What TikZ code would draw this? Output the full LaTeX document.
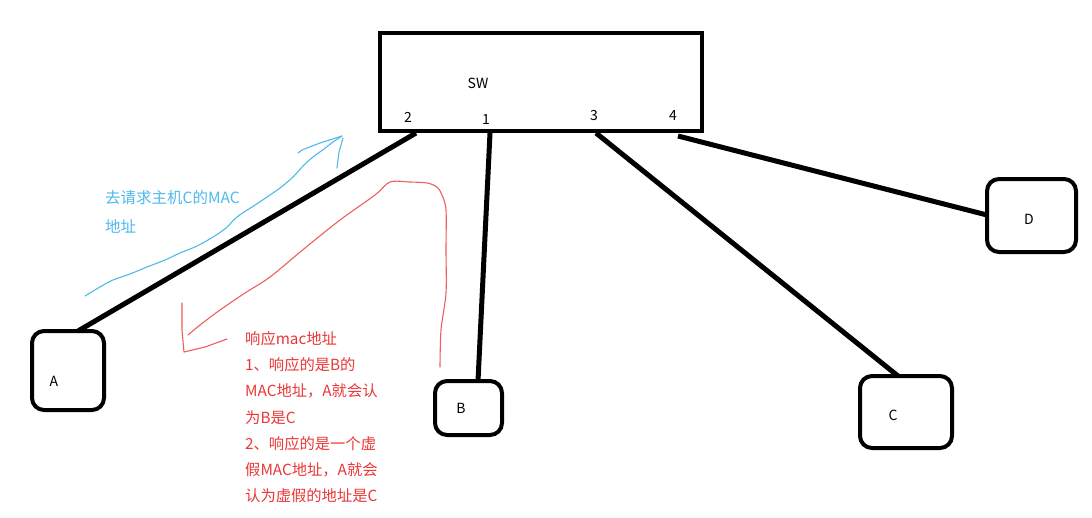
\documentclass[tikz,border=0pt]{standalone}
\usepackage{fontspec}
\setmainfont{Noto Sans CJK SC}
\definecolor{sky}{RGB}{80,185,235}
\definecolor{redtxt}{RGB}{235,55,55}
\definecolor{redline}{RGB}{238,95,95}
\begin{document}
\begin{tikzpicture}[x=1pt,y=-1pt,
  box/.style={draw=black,line width=4pt,rounded corners=12pt,minimum width=#1,inner sep=0pt},
  link/.style={draw=black,line width=5pt},
  lbl/.style={font=\fontsize{14}{16}\selectfont,inner sep=0pt},
  bluetxt/.style={text=sky,font=\fontsize{15.5}{26}\selectfont,inner sep=0pt,anchor=west},
  redtext/.style={text=redtxt,font=\fontsize{15.3}{26.3}\selectfont,inner sep=0pt,anchor=north west,align=left},
  freehand/.style={line width=1.1pt,line cap=round,line join=round}]
\useasboundingbox (0,0) rectangle (1092,517);
\fill[white] (0,0) rectangle (1092,517);
% switch
\node[draw=black,line width=4pt,minimum width=322pt,minimum height=98pt,inner sep=0pt] (sw) at (541,82) {};
\node[lbl] (swl) at (478,83) {SW};
\node[lbl] (p2l) at (408,117) {2};
\node[lbl] (p1l) at (486,120) {1};
\node[lbl] (p3l) at (594,116) {3};
\node[lbl] (p4l) at (673,116) {4};
% hosts
\node[box=72pt,minimum height=79pt] (A) at (68,370.5) {};
\node[box=67pt,minimum height=54pt] (B) at (468.5,408) {};
\node[box=92pt,minimum height=72pt] (C) at (906,412) {};
\node[box=89pt,minimum height=73pt] (D) at (1031.5,215.5) {};
\node[lbl] (Al) at (54,381) {A};
\node[lbl] (Bl) at (461,408) {B};
\node[lbl] (Cl) at (893,415) {C};
\node[lbl] (Dl) at (1029,219) {D};
% port points
\coordinate (s2) at (416,133);
\coordinate (s1) at (490,133);
\coordinate (s3) at (596,133);
\coordinate (s4) at (678,136);
\coordinate (a2) at (78,331);
\coordinate (b1) at (478,381);
\coordinate (c3) at (898,376);
\coordinate (d4) at (987,215);
\draw[link] (s2) -- (a2);
\draw[link] (s1) -- (b1);
\draw[link] (s3) -- (c3);
\draw[link] (s4) -- (d4);
% blue request arrow
\draw[sky,freehand] plot[smooth,tension=0.6] coordinates {(85,296) (100,287) (113,280) (130,274) (147,267) (165,260) (180,253) (197,246) (213,237) (226,228) (237,217) (252,207) (267,197) (280,188) (293,177) (303,166) (313,157) (324,149) (333,142) (342,136)};
\draw[sky,freehand] (298,153) -- (302,150) -- (307,148) -- (320,143) -- (342,136);
\draw[sky,freehand] (343,138) -- (339,152) -- (337,168);
\node[bluetxt] (t1) at (105,198) {去请求主机C的MAC};
\node[bluetxt] (t2) at (105,226) {地址};
% red response arrow
\draw[redline,freehand] plot[smooth,tension=0.5] coordinates {(440,367) (441,330) (446,293) (446,250) (446,210) (442,195) (437,187) (427,183) (410,182) (390,182) (375,195) (340,220) (305,248) (270,277) (245,293) (220,310) (200,325) (188,335)};
\draw[redline,freehand] (182,303) -- (182,330) -- (184,352) -- (205,347) -- (227,339);
\node[redtext] (r1) at (245,331) {响应mac地址\\1、响应的是B的\\MAC地址，A就会认\\为B是C\\2、响应的是一个虚\\假MAC地址，A就会\\认为虚假的地址是C};
\end{tikzpicture}
\end{document}
